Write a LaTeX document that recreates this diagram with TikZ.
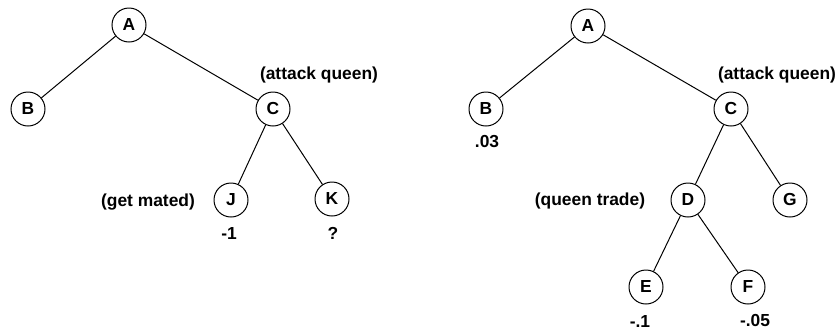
\documentclass[tikz,border=0pt]{standalone}
\usepackage{fontspec}
\setmainfont{Liberation Sans}
\begin{document}
\begin{tikzpicture}[x=0.5pt,y=-0.5pt,
  state/.style={draw,circle,minimum size=17pt,inner sep=0pt,line width=0.5pt,
    font=\fontsize{8.7}{10}\selectfont\bfseries},
  lbl/.style={inner sep=0pt,font=\fontsize{8.7}{10}\selectfont\bfseries},
  edge/.style={line width=0.5pt}]
\useasboundingbox (0,0) rectangle (840,333);
% first tree
\node[state] (a1) at (129,25) {A};
\node[state] (b1) at (28,109) {B};
\node[state] (c1) at (273,109) {C};
\node[state] (j1) at (231,200) {J};
\node[state] (k1) at (332,199) {K};
\node[lbl] (c1t) at (319,75) {(attack queen)};
\node[lbl] (j1t) at (148,202) {(get mated)};
\node[lbl] (j1v) at (229,234) {-1};
\node[lbl] (k1v) at (333,233) {?};
\draw[edge] (a1) -- (b1);
\draw[edge] (a1) -- (c1);
\draw[edge] (c1) -- (j1);
\draw[edge] (c1) -- (k1);
% second tree
\node[state] (a2) at (588,26) {A};
\node[state] (b2) at (486,109) {B};
\node[state] (c2) at (731,109) {C};
\node[state] (d2) at (688,200) {D};
\node[state] (g2) at (790,200) {G};
\node[state] (e2) at (646,287) {E};
\node[state] (f2) at (748,287) {F};
\node[lbl] (b2v) at (487,142) {.03};
\node[lbl] (c2t) at (777,75) {(attack queen)};
\node[lbl] (d2t) at (590,201) {(queen trade)};
\node[lbl] (e2v) at (640,322) {-.1};
\node[lbl] (f2v) at (755,321) {-.05};
\draw[edge] (a2) -- (b2);
\draw[edge] (a2) -- (c2);
\draw[edge] (c2) -- (d2);
\draw[edge] (c2) -- (g2);
\draw[edge] (d2) -- (e2);
\draw[edge] (d2) -- (f2);
\end{tikzpicture}
\end{document}
